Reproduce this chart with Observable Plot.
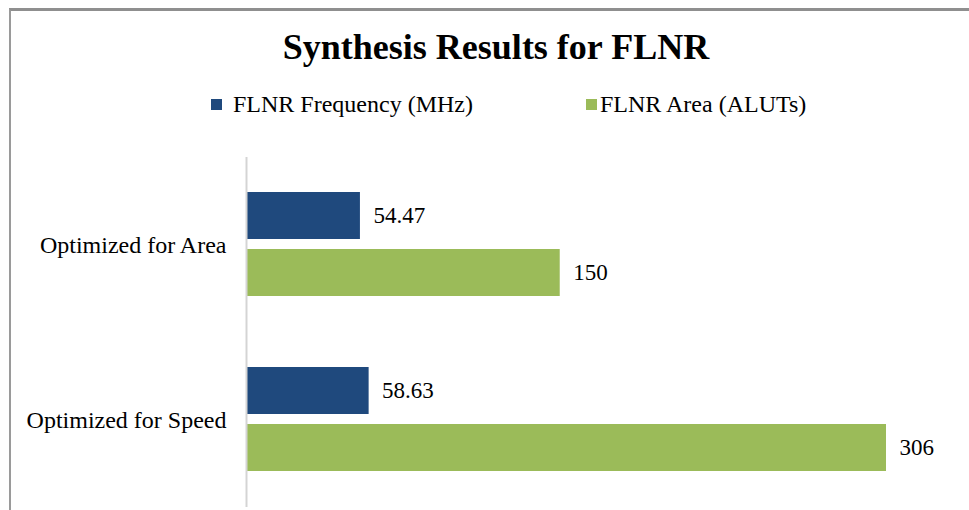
<!DOCTYPE html>
<html><head><meta charset="utf-8">
<script src="https://cdn.jsdelivr.net/npm/d3@7"></script>
<script src="https://cdn.jsdelivr.net/npm/@observablehq/plot@0.6"></script>
<style>
body{margin:0;background:#fff;}
#chart{position:relative;width:969px;height:510px;overflow:hidden;background:#fff;font-family:"Liberation Serif","Times New Roman",serif;color:#000;}
#frame{position:absolute;left:9px;top:8px;width:980px;height:520px;border-top:3px solid #8f8f8f;border-left:2px solid #9a9a9a;box-sizing:border-box;}
#title{position:absolute;left:0;top:29px;width:992px;text-align:center;font-weight:bold;font-size:36px;line-height:36px;white-space:nowrap;font-family:"Liberation Serif","Times New Roman",serif;}
.lg-item{position:absolute;top:92px;height:24px;display:flex;align-items:center;font-size:24px;line-height:24px;white-space:nowrap;font-family:"Liberation Serif","Times New Roman",serif;}
.lg-item span{font-family:"Liberation Serif","Times New Roman",serif;}
.lg-sw{width:11px;height:11px;display:inline-block;}
#plot{position:absolute;left:0;top:0;}
</style></head><body>
<div id="chart">
  <div id="frame"></div>
  <div id="title">Synthesis Results for FLNR</div>
  <div id="legend"></div>
  <div id="plot"></div>
</div>
<script>
// ---- data ----
const categories = ["Optimized for Area", "Optimized for Speed"];
const seriesNames = ["FLNR Frequency (MHz)", "FLNR Area (ALUTs)"];
const frequencyMHz = [54.47, 58.63];
const areaALUTs = [150, 306];
const seriesColors = ["#1f497d", "#9bbb59"];

// ---- table built from arrays ----
const rows = [];
categories.forEach((c, i) => {
  rows.push({category: c, series: seriesNames[0], value: frequencyMHz[i]});
  rows.push({category: c, series: seriesNames[1], value: areaALUTs[i]});
});

// ---- legend (HTML) ----
const legendLayout = [{left: 211, gap: 11}, {left: 586, gap: 3}];
const legend = document.getElementById("legend");
seriesNames.forEach((s, i) => {
  const item = document.createElement("div");
  item.className = "lg-item";
  item.style.left = legendLayout[i].left + "px";
  const sw = document.createElement("span");
  sw.className = "lg-sw";
  sw.style.background = seriesColors[i];
  sw.style.marginRight = legendLayout[i].gap + "px";
  const t = document.createElement("span");
  t.textContent = s;
  item.appendChild(sw);
  item.appendChild(t);
  legend.appendChild(item);
});

// ---- plot ----
const chart = Plot.plot({
  width: 969,
  height: 510,
  marginTop: 157,
  marginBottom: 3,
  marginLeft: 246,
  marginRight: 83,
  style: {fontFamily: "'Liberation Serif', 'Times New Roman', serif", fontSize: "24px", color: "#000", background: "transparent", overflow: "visible"},
  facet: {data: rows, y: "category"},
  fy: {domain: categories, paddingInner: 0.4, paddingOuter: 0.2, axis: "left", label: null, tickSize: 0, tickPadding: 20},
  y: {domain: seriesNames, paddingInner: 0.17, paddingOuter: 0, axis: null},
  x: {domain: [0, d3.max(areaALUTs)], axis: null},
  color: {domain: seriesNames, range: seriesColors},
  marks: [
    Plot.barX(rows, {y: "series", x: "value", fill: "series"}),
    Plot.text(rows, {y: "series", x: "value", text: d => String(d.value), dx: 13, textAnchor: "start", fill: "#000", fontSize: 23}),
    Plot.ruleX([0], {stroke: "#d4d4d4", strokeWidth: 2, insetTop: -35, insetBottom: -35})
  ]
});
document.getElementById("plot").appendChild(chart);
</script>
</body></html>
